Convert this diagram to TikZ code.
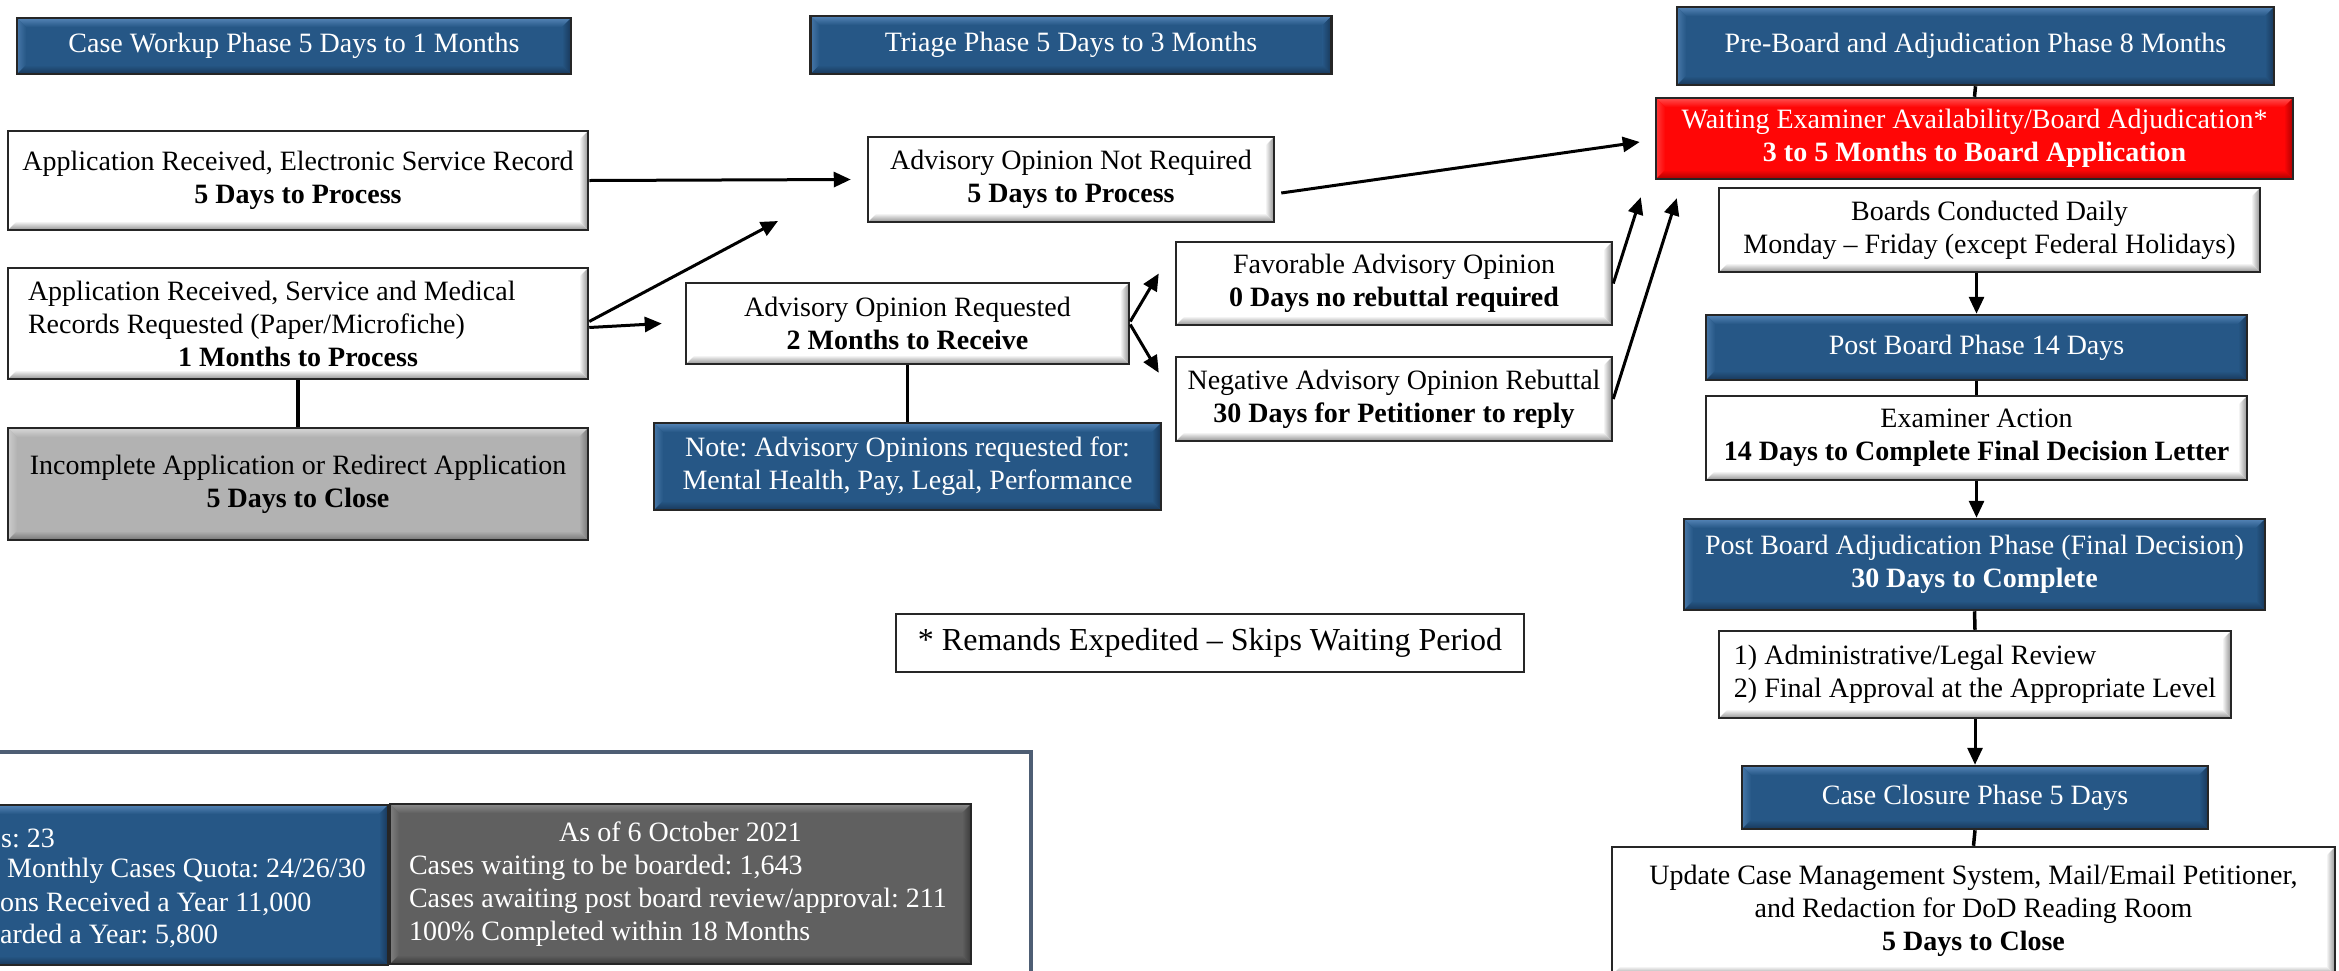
\documentclass[tikz,border=0pt]{standalone}
\usepackage{fontspec}
\setmainfont{Liberation Serif}
\usetikzlibrary{arrows.meta,calc}
\frenchspacing
\definecolor{bmain}{RGB}{38,87,134}
\definecolor{blight}{RGB}{84,132,182}
\definecolor{bdark}{RGB}{24,56,90}
\definecolor{rmain}{RGB}{255,6,6}
\definecolor{rlight}{RGB}{255,80,80}
\definecolor{rdark}{RGB}{170,0,0}
\definecolor{gmain}{RGB}{178,178,178}
\definecolor{glight}{RGB}{215,215,215}
\definecolor{gdark}{RGB}{118,118,118}
\definecolor{dmain}{RGB}{96,96,96}
\definecolor{dlight}{RGB}{140,140,140}
\definecolor{ddark}{RGB}{58,58,58}
\definecolor{wdark}{RGB}{145,145,145}
\definecolor{framec}{RGB}{78,94,116}
\tikzset{
  bev/.style n args={3}{fill=#1, draw=black!85, line width=2.5pt, inner sep=0pt, align=center,
    font=\fontsize{28}{33}\selectfont,
    path picture={
      \coordinate (bvnw) at (path picture bounding box.north west);
      \coordinate (bvne) at (path picture bounding box.north east);
      \coordinate (bvsw) at (path picture bounding box.south west);
      \coordinate (bvse) at (path picture bounding box.south east);
      \shade[top color=#2, bottom color=#1] (bvnw) -- (bvne) -- ([shift={(-9pt,-9pt)}]bvne) -- ([shift={(9pt,-9pt)}]bvnw) -- cycle;
      \shade[left color=#2!70!#1, right color=#1] (bvnw) -- ([shift={(9pt,-9pt)}]bvnw) -- ([shift={(9pt,9pt)}]bvsw) -- (bvsw) -- cycle;
      \shade[top color=#1, bottom color=#3] (bvsw) -- (bvse) -- ([shift={(-9pt,9pt)}]bvse) -- ([shift={(9pt,9pt)}]bvsw) -- cycle;
      \shade[left color=#1, right color=#3] (bvne) -- (bvse) -- ([shift={(-9pt,9pt)}]bvse) -- ([shift={(-9pt,-9pt)}]bvne) -- cycle;
    }},
  wb/.style={bev={white}{white}{wdark}, text=black},
  bb/.style={bev={bmain}{blight}{bdark}, text=white},
  rb/.style={bev={rmain}{rlight}{rdark}, text=white},
  gb/.style={bev={gmain}{glight}{gdark}, text=black},
  db/.style={bev={dmain}{dlight}{ddark}, text=white},
  arr/.style={line width=3pt, -{Triangle[length=17pt,width=15pt]}},
  ln/.style={line width=3.5pt},
  stat/.style={text=white, inner sep=0pt, anchor=west, font=\fontsize{28}{33}\selectfont},
}
\begin{document}
\begin{tikzpicture}[x=1pt,y=-1pt]
\useasboundingbox (0,0) rectangle (2339,970);
\clip (0,0) rectangle (2339,970);
\fill[white] (0,0) rectangle (2339,970);

% headers
\node[bb, minimum width=554, minimum height=56] (cw) at (294,46) {Case Workup Phase 5 Days to 1 Months};
\node[bb, minimum width=521, minimum height=58] (tri) at (1071,45) {Triage Phase 5 Days to 3 Months};
\node[bb, minimum width=597, minimum height=78] (pre) at (1975.5,46) {Pre-Board and Adjudication Phase 8 Months};

% left column
\node[wb, minimum width=580, minimum height=99] (appE) at (298,180.5) {Application Received, Electronic Service Record\\\textbf{5 Days to Process}};
\node[wb, minimum width=580, minimum height=111, text width=540pt, inner xsep=20pt, align=flush left] (appS) at (298,323.5) {Application Received, Service and Medical\\Records Requested (Paper/Microfiche)\\\hspace*{\fill}\textbf{1 Months to Process}\hspace*{\fill}};
\node[gb, minimum width=580, minimum height=112] (inc) at (298,484) {Incomplete Application or Redirect Application\\\textbf{5 Days to Close}};

% triage column
\node[wb, minimum width=406, minimum height=85] (aoNR) at (1071,179.5) {Advisory Opinion Not Required\\\textbf{5 Days to Process}};
\node[wb, minimum width=443, minimum height=81] (aoR) at (907.5,323.5) {Advisory Opinion Requested\\\textbf{2 Months to Receive}};
\node[bb, minimum width=507, minimum height=87] (note) at (907.5,466.5) {Note: Advisory Opinions requested for:\\Mental Health, Pay, Legal, Performance};
\node[wb, minimum width=436, minimum height=83] (fav) at (1394,283.5) {Favorable Advisory Opinion\\\textbf{0 Days no rebuttal required}};
\node[wb, minimum width=436, minimum height=84] (neg) at (1394,399) {Negative Advisory Opinion Rebuttal\\\textbf{30 Days for Petitioner to reply}};

% right column
\node[rb, minimum width=637, minimum height=81] (wait) at (1974.5,138.5) {Waiting Examiner Availability/Board Adjudication*\\\textbf{3 to 5 Months to Board Application}};
\node[wb, minimum width=541, minimum height=84] (boards) at (1989.5,230) {Boards Conducted Daily\\Monday – Friday (except Federal Holidays)};
\node[bb, minimum width=541, minimum height=65] (pb) at (1976.5,347.5) {Post Board Phase 14 Days};
\node[wb, minimum width=541, minimum height=84] (exam) at (1976.5,438) {Examiner Action\\\textbf{14 Days to Complete Final Decision Letter}};
\node[bb, minimum width=581, minimum height=91] (pba) at (1974.5,564.5) {Post Board Adjudication Phase (Final Decision)\\\textbf{30 Days to Complete}};
\node[wb, minimum width=512, minimum height=87, align=left] (rev) at (1975,674.5) {1) Administrative/Legal Review\\2) Final Approval at the Appropriate Level};
\node[bb, minimum width=466, minimum height=63] (cc) at (1975,797.5) {Case Closure Phase 5 Days};
\node[wb, minimum width=723, minimum height=128] (upd) at (1973.5,911) {Update Case Management System, Mail/Email Petitioner,\\and Redaction for DoD Reading Room\\\textbf{5 Days to Close}};

% remands note
\node[draw=black!85, line width=1.5pt, fill=white, minimum width=628, minimum height=58, inner sep=0pt, font=\fontsize{32}{36}\selectfont] (rem) at (1210,643) {* Remands Expedited – Skips Waiting Period};

% bottom-left frame and stats
\draw[framec, line width=4.5pt] (-10,752) -- (1031,752) -- (1031,990);
\node[bb, minimum width=638, minimum height=160] (statB) at (69,885) {};
\node[stat] (s1) at (1,838) {s: 23};
\node[stat] (s2) at (7,871) {Monthly Cases Quota: 24/26/30};
\node[stat] (s3) at (0,904) {ons Received a Year 11,000};
\node[stat] (s4) at (0,936) {arded a Year: 5,800};
\node[db, minimum width=581, minimum height=160, text width=543pt, inner xsep=19pt, align=flush left] (statG) at (680.5,884) {\hspace*{\fill}As of 6 October 2021\hspace*{\fill}\mbox{}\\Cases waiting to be boarded: 1,643\\Cases awaiting post board review/approval: 211\\100\% Completed within 18 Months};

% connectors
\coordinate (free) at (778,221);
\draw[ln] (appS.south) -- (inc.north);
\draw[ln] (aoR.south) -- (note.north);
\draw[arr] (appE.east) -- ([xshift=-16pt]aoNR.west);
\draw[arr] ([yshift=2pt]appS.east) -- (free);
\draw[arr] ([yshift=-4pt]appS.east) -- ([xshift=-23pt]appS.east -| aoR.west);
\draw[arr] ([xshift=6pt,yshift=-13.5pt]aoNR.east) -- ([xshift=-15pt,yshift=-3.5pt]wait.west);
\draw[arr] ([yshift=2pt]aoR.east) -- ([xshift=-16pt,yshift=10pt]fav.west);
\draw[arr] ([yshift=-1pt]aoR.east) -- ([xshift=-16pt,yshift=-17pt]fav.south west |- neg.north);
\draw[arr] (fav.east) -- ([xshift=-14pt,yshift=-17pt]wait.south west);
\draw[arr] (neg.east) -- ([xshift=22pt,yshift=-18pt]wait.south west);
\draw[ln] (pre.south) -- (wait.north);
\draw[arr] (boards.south -| pb.north) -- (pb.north);
\draw[ln] (pb.south) -- (exam.north);
\draw[arr] (exam.south) -- (exam.south |- pba.north);
\draw[ln] (pba.south) -- (rev.north);
\draw[arr] (rev.south) -- (cc.north);
\draw[ln] (cc.south) -- (upd.north);
\end{tikzpicture}
\end{document}
